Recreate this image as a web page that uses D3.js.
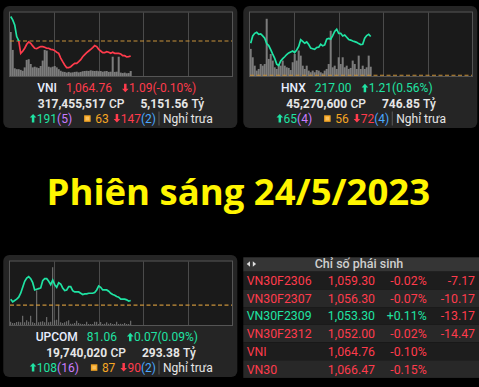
<!DOCTYPE html>
<html>
<head>
<meta charset="utf-8">
<title>Phiên sáng 24/5/2023</title>
<script src="https://cdn.jsdelivr.net/npm/d3@7"></script>
<style>
  body { margin: 0; background: #000; }
  svg { display: block; font-family: Roboto, "Noto Sans", sans-serif; }
</style>
</head>
<body>
<div id="main"></div>
<script>
// ---- data (one value per 2-minute slot, session still running) ----
var slotCount = 111;

var vniRef = 1065.85;
var vniPrice = [1067.62, 1067.38, 1067.01, 1066.17, 1065.87, 1064.95, 1065.10, 1065.32, 1065.61, 1065.78,
  1065.68, 1065.49, 1065.32, 1065.29, 1065.37, 1065.44, 1065.44, 1065.39, 1065.32, 1065.32,
  1065.24, 1065.22, 1065.15, 1065.03, 1064.95, 1064.61, 1064.35, 1064.11, 1063.91, 1063.91,
  1063.98, 1064.11, 1064.23, 1064.23, 1064.35, 1064.49, 1064.71, 1064.86, 1065.00, 1065.12,
  1065.24, 1065.37, 1065.51, 1065.44, 1065.24, 1065.12, 1065.00, 1065.00, 1065.07, 1065.03,
  1064.95, 1065.03, 1064.95, 1064.95, 1064.95, 1064.91, 1064.78, 1064.78, 1064.69, 1064.71,
  1064.76];
var vniVolume = [19.4, 11.5, 3.4, 3.0, 3.0, 2.7, 2.3, 3.8, 7.1, 7.4,
  5.3, 3.8, 4.1, 3.8, 3.5, 4.4, 6.8, 11.5, 11.2, 4.1,
  3.8, 4.1, 4.4, 3.8, 3.0, 2.3, 1.9, 1.8, 1.5, 1.8,
  1.5, 1.6, 1.8, 1.9, 1.6, 1.8, 2.1, 2.2, 2.3, 2.2,
  2.5, 2.3, 2.2, 2.3, 2.1, 2.2, 1.9, 2.1, 2.2, 1.8,
  1.9, 8.5, 1.8, 1.9, 8.5, 1.5, 1.3, 1.5, 1.2, 1.3,
  2.2];

var hnxRef = 215.79;
var hnxPrice = [216.79, 217.02, 217.10, 217.13, 217.07, 217.08, 217.02, 216.95, 216.78, 216.72,
  216.59, 216.45, 216.32, 216.14, 216.10, 216.24, 216.31, 216.37, 216.44, 216.49,
  216.52, 216.55, 216.50, 216.58, 216.69, 216.90, 216.85, 216.79, 216.83, 216.75,
  216.64, 216.62, 216.60, 216.66, 216.67, 216.76, 216.71, 216.74, 216.92, 216.94,
  216.92, 217.03, 217.16, 217.23, 217.10, 217.10, 217.02, 217.05, 216.98, 216.91,
  216.89, 216.86, 216.84, 216.82, 216.78, 216.75, 216.76, 216.95, 217.03, 217.07,
  217.00];
var hnxVolume = [1.81, 1.25, 0.69, 0.36, 0.47, 0.80, 0.69, 0.80, 3.82, 1.14,
  1.47, 1.03, 0.58, 0.47, 0.80, 0.69, 1.03, 0.69, 0.58, 0.54,
  0.40, 0.92, 1.47, 1.03, 1.70, 1.36, 0.69, 0.47, 0.69, 0.36,
  0.25, 0.36, 0.25, 0.40, 0.36, 0.25, 0.18, 0.36, 0.47, 0.80,
  3.02, 0.58, 0.69, 0.47, 1.25, 0.80, 1.25, 0.58, 0.69, 0.47,
  0.54, 1.03, 0.80, 0.47, 1.36, 0.47, 0.69, 0.47, 0.58, 1.36,
  0.62];

var upcomRef = 80.99;
var upcomPrice = [81.08, 81.04, 81.06, 81.08, 81.11, 81.17, 81.26, 81.35, 81.40, 81.42,
  81.39, 81.33, 81.22, 81.23, 81.24, 81.25, 81.36, 81.39, 81.39, 81.35,
  81.30, 81.37, 81.30, 81.26, 81.33, 81.31, 81.25, 81.21, 81.22, 81.27,
  81.27, 81.21, 81.19, 81.19, 81.19, 81.17, 81.15, 81.16, 81.16, 81.17,
  81.17, 81.17, 81.18, 81.22, 81.28, 81.26, 81.22, 81.22, 81.22, 81.20,
  81.17, 81.15, 81.14, 81.12, 81.11, 81.08, 81.08, 81.08, 81.07, 81.05,
  81.06];
var upcomVolume = [0.26, 0.16, 0.16, 0.24, 0.26, 0.22, 0.74, 0.22, 0.38, 0.26,
  0.74, 0.22, 0.16, 2.78, 0.22, 0.26, 0.30, 0.22, 0.64, 0.22,
  0.26, 4.64, 0.38, 0.42, 1.62, 0.22, 0.16, 0.22, 0.30, 0.38,
  0.10, 0.10, 0.16, 0.34, 0.16, 0.10, 0.08, 0.08, 0.26, 0.08,
  0.08, 0.08, 0.26, 0.26, 0.08, 0.24, 0.08, 0.10, 0.22, 0.10,
  0.16, 0.08, 0.08, 0.26, 0.08, 0.10, 0.08, 0.16, 0.08, 0.08,
  0.34];

// summary lines under each chart
var indexNames = ["VNI", "HNX", "UPCOM"];
var indexClose = ["1,064.76", "217.00", "81.06"];
var indexChange = ["1.09(-0.10%)", "1.21(0.56%)", "0.07(0.09%)"];
var indexShares = ["317,455,517", "45,270,600", "19,740,020"];
var indexValue = ["5,151.56", "746.85", "293.38"];
var advances = [191, 65, 108];
var ceilings = [5, 4, 16];
var unchanged = [63, 56, 87];
var declines = [147, 72, 90];
var floors = [2, 4, 2];

// derivatives table
var derivNames = ["VN30F2306", "VN30F2307", "VN30F2309", "VN30F2312", "VNI", "VN30"];
var derivPrice = [1059.30, 1056.30, 1053.30, 1052.00, 1064.76, 1066.47];
var derivPct = [-0.02, -0.07, 0.11, -0.02, -0.10, -0.15];
var derivDiff = [-7.17, -10.17, -13.17, -14.47, null, null];

// ---- colours ----
var GREEN = "#1fe3a3", RED = "#ff3b4c", PURPLE = "#c97cff", BLUE = "#4aa8ff",
    ORANGE = "#f5a623", WHITE = "#e6e6e6";

var svg = d3.select("#main").append("svg")
  .attr("width", 479).attr("height", 387);

svg.append("rect").attr("width", 479).attr("height", 387).attr("fill", "#000");

var panelW = 234, panelH = 122, chartW = 222, chartH = 63.5;

function drawChart(g, id, price, volume, ref, yDomain, volMax, barW) {
  var x = d3.scaleLinear().domain([-0.35, slotCount - 0.35]).range([0, chartW]);
  var y = d3.scaleLinear().domain(yDomain).range([chartH, 0]);
  var yv = d3.scaleLinear().domain([0, volMax]).range([chartH, 0]);

  g.append("rect").attr("width", chartW).attr("height", chartH).attr("fill", "#1a1a1a");

  // vertical grid
  var gx = d3.scaleLinear().domain([0, 5]).range([0, chartW]);
  g.selectAll(".grid").data([1, 2, 3, 4]).enter().append("line")
    .attr("x1", function(d) { return Math.round(gx(d)) + 0.5; })
    .attr("x2", function(d) { return Math.round(gx(d)) + 0.5; })
    .attr("y1", 0).attr("y2", chartH)
    .attr("stroke", "#4b4b4b");

  g.selectAll(".vol").data(volume).enter().append("rect")
    .attr("x", function(d, i) { return x(i) - barW / 2; })
    .attr("width", barW)
    .attr("y", function(d) { return yv(d); })
    .attr("height", function(d) { return chartH - yv(d); })
    .attr("fill", "#7c7c7c");

  var yRef = Math.min(y(ref), chartH - 0.7);
  g.append("line").attr("x1", 0).attr("x2", chartW)
    .attr("y1", yRef).attr("y2", yRef)
    .attr("stroke", "#c8913a").attr("stroke-width", 1.1)
    .attr("stroke-dasharray", "4,2.5");

  var defs = g.append("defs");
  defs.append("clipPath").attr("id", id + "-up").append("rect")
    .attr("x", 0).attr("y", -5).attr("width", chartW).attr("height", y(ref) + 5);
  defs.append("clipPath").attr("id", id + "-dn").append("rect")
    .attr("x", 0).attr("y", y(ref)).attr("width", chartW).attr("height", chartH + 5);

  var line = d3.line().x(function(d, i) { return x(i); }).y(function(d) { return y(d); });
  [["up", GREEN], ["dn", RED]].forEach(function(c) {
    g.append("path").datum(price)
      .attr("d", line)
      .attr("clip-path", "url(#" + id + "-" + c[0] + ")")
      .attr("fill", "none")
      .attr("stroke", c[1])
      .attr("stroke-width", 1.7);
  });

  g.append("rect").attr("x", -0.5).attr("y", -0.5)
    .attr("width", chartW + 1).attr("height", chartH + 1)
    .attr("fill", "none").attr("stroke", "#555");
}

// lays out mixed parts left to right, then centres the whole line on cx
function drawText(g, cx, y, parts) {
  var row = g.append("g");
  var cur = 0;
  parts.forEach(function(p) {
    cur += p.gap || 0;
    if (p.type === "up" || p.type === "down") {
      row.append("path")
        .attr("d", "M0,-8.5L3.3,-4.9L1.25,-4.9L1.25,0L-1.25,0L-1.25,-4.9L-3.3,-4.9Z")
        .attr("transform", p.type === "up"
          ? "translate(" + (cur + 3.3) + ",0)"
          : "translate(" + (cur + 3.3) + ",-8.5) scale(1,-1)")
        .attr("fill", p.color);
      cur += 6.6;
    } else if (p.type === "square") {
      row.append("rect").attr("x", cur).attr("y", -7.2).attr("width", 6.5).attr("height", 6.5)
        .attr("fill", p.color);
      row.append("rect").attr("x", cur + 1.5).attr("y", -5.7).attr("width", 3.5).attr("height", 3.5)
        .attr("fill", "#f8c060");
      cur += 6.5;
    } else if (p.type === "sep") {
      row.append("line").attr("x1", cur + 0.5).attr("x2", cur + 0.5)
        .attr("y1", -11).attr("y2", 3).attr("stroke", "#5a5a5a");
      cur += 1;
    } else {
      var t = row.append("text").attr("x", cur).attr("y", 0)
        .attr("font-size", p.size || 12)
        .attr("font-weight", p.weight || 400)
        .attr("fill", p.color)
        .text(p.text);
      cur += t.node().getComputedTextLength();
    }
  });
  row.attr("transform", "translate(" + (cx - cur / 2) + "," + y + ")");
}

var panels = [
  { x: 3.3, y: 6, price: vniPrice, vol: vniVolume, ref: vniRef, dom: [1063.31, 1067.91], volMax: 28, barW: 2 },
  { x: 243.3, y: 6, price: hnxPrice, vol: hnxVolume, ref: hnxRef, dom: [215.77, 217.75], volMax: 4.24, barW: 2 },
  { x: 3.3, y: 255, price: upcomPrice, vol: upcomVolume, ref: upcomRef, dom: [80.69, 81.65], volMax: 5.1, barW: 1 }
];

panels.forEach(function(p, k) {
  var g = svg.append("g").attr("transform", "translate(" + p.x + "," + p.y + ")");
  g.append("rect").attr("width", panelW).attr("height", panelH)
    .attr("rx", 6).attr("fill", "#252525");

  var cg = g.append("g").attr("transform", "translate(6.7,6.5)");
  drawChart(cg, "c" + k, p.price, p.vol, p.ref, p.dom, p.volMax, p.barW);

  var last = p.price[p.price.length - 1];
  var col = last >= p.ref ? GREEN : RED;
  var cx = panelW / 2;

  drawText(g, cx - 3.5, 86.3, [
    { text: indexNames[k], color: "#e8eeff", weight: 500 },
    { gap: 9, text: indexClose[k], color: col },
    { gap: 10, type: last >= p.ref ? "up" : "down", color: col },
    { gap: 0.5, text: indexChange[k], color: col }
  ]);
  drawText(g, cx + 0.7, 101.5, [
    { text: indexShares[k], color: WHITE, weight: 700 },
    { gap: 3.3, text: "CP", color: WHITE, weight: 500 },
    { gap: 16, text: indexValue[k], color: WHITE, weight: 700 },
    { gap: 3.3, text: "Tỷ", color: WHITE, weight: 500 }
  ]);
  drawText(g, cx + 1, 116.5, [
    { type: "up", color: GREEN },
    { gap: 0.5, text: String(advances[k]), color: GREEN },
    { text: "(" + ceilings[k] + ")", color: PURPLE },
    { gap: 12, type: "square", color: ORANGE },
    { gap: 4.5, text: String(unchanged[k]), color: ORANGE },
    { gap: 5, type: "down", color: RED },
    { gap: 0.5, text: String(declines[k]), color: RED },
    { text: "(" + floors[k] + ")", color: BLUE },
    { gap: 2.5, type: "sep" },
    { gap: 3.5, text: "Nghỉ trưa", color: WHITE }
  ]);
});

// title
svg.append("text")
  .attr("x", 238.3).attr("y", 205)
  .attr("text-anchor", "middle")
  .attr("font-family", "'Open Sans', 'Noto Sans', sans-serif")
  .attr("font-weight", 700)
  .attr("font-size", 36.5)
  .attr("fill", "#fff500")
  .text("Phiên sáng 24/5/2023");

// derivatives table
var tx = 243.3, tw = 479 - 243.3, headTop = 257.3, headH = 14.4, rowH = 17.7;
var tg = svg.append("g");
tg.append("rect").attr("x", tx).attr("y", headTop).attr("width", tw).attr("height", headH)
  .attr("fill", "#353535");
tg.append("path").attr("d", "M250,261.3L246.7,264L250,266.7Z").attr("fill", "#ddd");
tg.append("path").attr("d", "M252.8,261.3L256.1,264L252.8,266.7Z").attr("fill", "#ddd");
tg.append("text").attr("x", 359).attr("y", 268.2).attr("text-anchor", "middle")
  .attr("font-size", 12.5).attr("font-weight", 500).attr("fill", "#cfcfcf")
  .text("Chỉ số phái sinh");

var fmtPrice = d3.format(",.2f");
var rows = tg.selectAll(".row").data(derivNames).enter().append("g")
  .attr("transform", function(d, i) { return "translate(0," + (headTop + headH + i * rowH) + ")"; });
rows.append("rect").attr("x", tx).attr("width", tw).attr("height", rowH)
  .attr("fill", function(d, i) { return i % 2 ? "#282828" : "#1d1d1d"; });
function signColor(v) { return v > 0 ? GREEN : RED; }
rows.append("text").attr("x", 246.7).attr("y", 13.4).attr("font-size", 12.3)
  .attr("fill", function(d, i) { return signColor(derivPct[i]); })
  .text(function(d) { return d; });
rows.append("text").attr("x", 375).attr("y", 13.4).attr("font-size", 12.3).attr("text-anchor", "end")
  .attr("fill", function(d, i) { return signColor(derivPct[i]); })
  .text(function(d, i) { return fmtPrice(derivPrice[i]); });
rows.append("text").attr("x", 426.7).attr("y", 13.4).attr("font-size", 12.3).attr("text-anchor", "end")
  .attr("fill", function(d, i) { return signColor(derivPct[i]); })
  .text(function(d, i) { var v = derivPct[i]; return (v > 0 ? "+" : "") + v.toFixed(2) + "%"; });
rows.append("text").attr("x", 475).attr("y", 13.4).attr("font-size", 12.3).attr("text-anchor", "end")
  .attr("fill", function(d, i) { return derivDiff[i] == null ? "none" : signColor(derivDiff[i]); })
  .text(function(d, i) { return derivDiff[i] == null ? "" : derivDiff[i].toFixed(2); });
</script>
</body>
</html>
